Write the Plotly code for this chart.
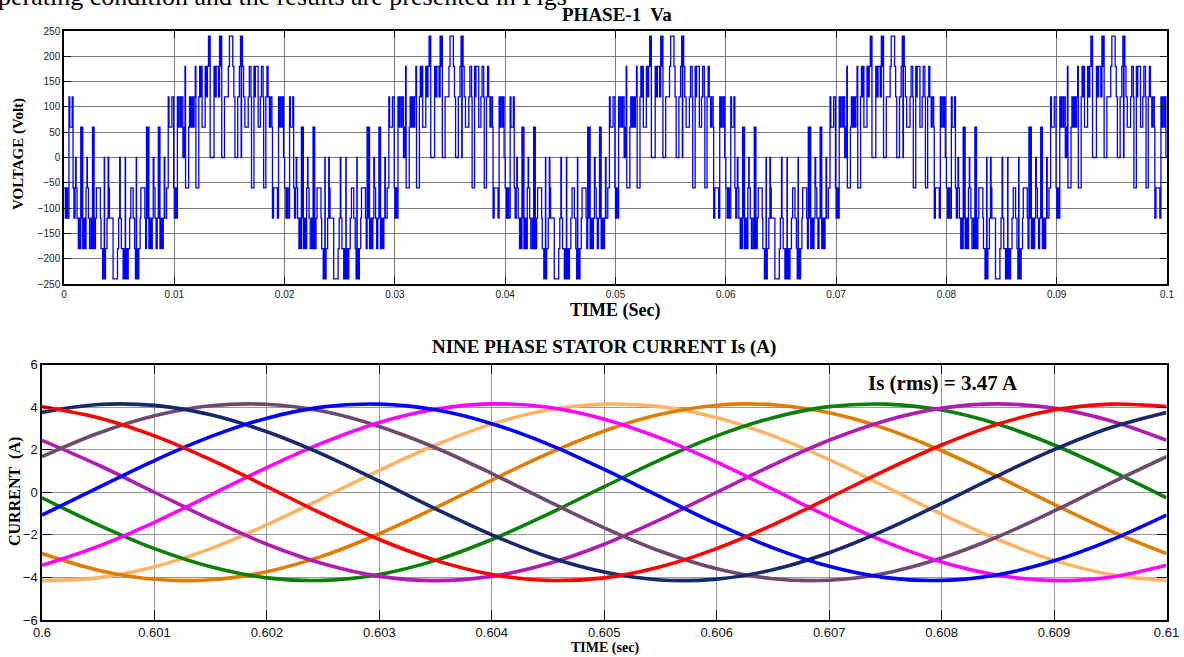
import plotly.graph_objects as go

# ---------------- DATA ----------------
# Phase-1 voltage: one period (20 ms) of the multilevel PWM waveform
# negative half-cycle switching instants (ms) and levels (V)
va_neg_half_ms = [
    0.00, 0.12, 0.22, 0.32, 0.45, 0.52, 0.74, 0.82, 0.90, 1.00,
    1.05, 1.10, 1.18, 1.30, 1.38, 1.45, 1.52, 1.56, 1.62, 1.70,
    1.80, 1.90, 2.00, 2.08, 2.12, 2.22, 2.32, 2.45, 2.52, 2.58,
    2.62, 2.68, 2.73, 2.85, 2.94, 3.30, 3.36, 3.50, 3.55, 3.60,
    3.65, 3.68, 3.76, 3.90, 4.00, 4.05, 4.12, 4.45, 4.85, 4.95,
    5.05, 5.10, 5.20, 5.36, 5.42, 5.50, 5.55, 5.58, 5.70, 5.76,
    5.82, 5.95, 6.06, 6.27, 6.40, 6.48, 6.55, 6.58, 6.68, 6.73,
    6.78, 6.90, 6.97, 7.33, 7.40, 7.48, 7.55, 7.62, 7.70, 7.80,
    7.90, 8.00, 8.09, 8.15, 8.25, 8.35, 8.45, 8.55, 8.62, 8.66,
    8.70, 8.80, 8.91, 9.00, 9.09, 9.14, 9.30, 9.45, 9.52, 9.78,
    9.94,
]
va_neg_half_v = [
    -60, -120, -60, -120, 120, 60, 120, -60, -120, -60,
    0, -60, -120, -180, -120, -180, 60, -120, 60, -180,
    -120, -180, -60, 0, -60, -120, -180, -120, -180, 60,
    -180, 60, -180, -120, -60, -120, -180, -240, -180, -240,
    0, -240, -180, -120, 0, -60, -120, -240, -180, -120,
    0, -120, -180, -240, -180, -240, 0, -240, -180, -240,
    -180, -120, -60, -120, -180, -240, 0, -240, -180, -240,
    -180, -120, -60, -120, -180, 60, -120, 60, -180, -120,
    -180, -120, 0, -60, -120, -180, -120, 60, -120, 60,
    -180, -120, -180, -120, 0, -120, -60, 120, 60, 120,
    -60,
]
# positive half-cycle switching instants (ms) and levels (V)
va_pos_half_ms = [
    10.00, 10.08, 10.20, 10.28, 10.35, 10.42, 10.55, 10.65, 10.78, 10.90,
    10.97, 11.02, 11.30, 11.38, 11.50, 11.58, 11.70, 11.80, 11.90, 11.96,
    12.22, 12.30, 12.40, 12.45, 12.52, 12.80, 12.90, 13.00, 13.10, 13.14,
    13.20, 13.25, 13.60, 13.70, 13.80, 14.00, 14.10, 14.15, 14.22, 14.30,
    14.55, 14.90, 15.00, 15.30, 15.40, 15.50, 15.75, 15.90, 16.00, 16.06,
    16.10, 16.18, 16.28, 16.40, 16.70, 16.80, 16.95, 17.00, 17.22, 17.30,
    17.35, 17.60, 17.80, 17.90, 18.05, 18.10, 18.30, 18.40, 18.50, 18.62,
    18.72, 18.85, 18.90, 19.00, 19.35, 19.45, 19.55, 19.62, 19.75, 19.82,
    19.90,
]
va_pos_half_v = [
    -120, -60, -120, 120, 60, 120, 60, 120, 0, 60,
    180, -60, 60, 120, 60, 120, 60, 120, 180, -60,
    120, 180, 120, 180, 60, 180, 120, 180, 240, 180,
    240, 0, 180, 120, 180, 120, 240, 180, 240, 0,
    120, 180, 240, 180, 120, 0, 120, 180, 240, 0,
    240, 180, 120, 60, 120, 180, 120, -60, 180, 120,
    180, 60, 120, 180, 120, -60, 120, 180, 120, 60,
    120, 60, -120, -60, -120, 120, 60, 120, 60, 120,
    0,
]
cycle_start_s = [0.00, 0.02, 0.04, 0.06, 0.08]

va_xticks = [0, 0.01, 0.02, 0.03, 0.04, 0.05, 0.06, 0.07, 0.08, 0.09, 0.1]
va_xlabels = ["0", "0.01", "0.02", "0.03", "0.04", "0.05", "0.06", "0.07", "0.08", "0.09", "0.1"]
va_yticks = [-250, -200, -150, -100, -50, 0, 50, 100, 150, 200, 250]

# Nine-phase stator currents (A), read every 0.5 ms
is_time = [0.6000, 0.6005, 0.6010, 0.6015, 0.6020, 0.6025, 0.6030, 0.6035, 0.6040, 0.6045,
           0.6050, 0.6055, 0.6060, 0.6065, 0.6070, 0.6075, 0.6080, 0.6085, 0.6090, 0.6095,
           0.6100]
is_navy = [3.75, 4.12, 4.08, 3.64, 2.84, 1.77, 0.52, -0.78, -2.00, -3.03,
           -3.75, -4.12, -4.08, -3.64, -2.84, -1.77, -0.52, 0.78, 2.00, 3.03, 3.75]
is_mauve = [1.67, 2.77, 3.59, 4.06, 4.13, 3.80, 3.09, 2.09, 0.88, -0.42,
            -1.67, -2.77, -3.59, -4.06, -4.13, -3.80, -3.09, -2.09, -0.88, 0.42, 1.67]
is_blue = [-1.07, 0.22, 1.49, 2.61, 3.48, 4.01, 4.14, 3.87, 3.22, 2.26,
           1.07, -0.22, -1.49, -2.61, -3.48, -4.01, -4.14, -3.87, -3.22, -2.26, -1.07]
is_magenta = [-3.43, -2.54, -1.41, -0.13, 1.16, 2.33, 3.28, 3.90, 4.15, 3.99,
              3.43, 2.54, 1.41, 0.13, -1.16, -2.33, -3.28, -3.90, -4.15, -3.99, -3.43]
is_lightorange = [-4.14, -4.02, -3.50, -2.65, -1.53, -0.26, 1.03, 2.22, 3.20, 3.86,
                  4.14, 4.02, 3.50, 2.65, 1.53, 0.26, -1.03, -2.22, -3.20, -3.86, -4.14]
is_darkorange = [-2.88, -3.66, -4.09, -4.11, -3.73, -2.99, -1.95, -0.73, 0.57, 1.81,
                 2.88, 3.66, 4.09, 4.11, 3.73, 2.99, 1.95, 0.73, -0.57, -1.81, -2.88]
is_green = [-0.26, -1.53, -2.65, -3.50, -4.02, -4.14, -3.86, -3.20, -2.22, -1.03,
            0.26, 1.53, 2.65, 3.50, 4.02, 4.14, 3.86, 3.20, 2.22, 1.03, -0.26]
is_violet = [2.44, 1.28, 0.00, -1.28, -2.44, -3.36, -3.95, -4.15, -3.95, -3.36,
             -2.44, -1.28, 0.00, 1.28, 2.44, 3.36, 3.95, 4.15, 3.95, 3.36, 2.44]
is_red = [4.02, 3.50, 2.65, 1.53, 0.26, -1.03, -2.22, -3.20, -3.86, -4.14,
          -4.02, -3.50, -2.65, -1.53, -0.26, 1.03, 2.22, 3.20, 3.86, 4.14, 4.02]

is_xticks = [0.600, 0.601, 0.602, 0.603, 0.604, 0.605, 0.606, 0.607, 0.608, 0.609, 0.610]
is_xlabels = ["0.6", "0.601", "0.602", "0.603", "0.604", "0.605", "0.606", "0.607", "0.608", "0.609", "0.61"]
is_yticks = [-6, -4, -2, 0, 2, 4, 6]

# ---------------- BUILD ----------------
cyc_ms = va_neg_half_ms + va_pos_half_ms
cyc_v = va_neg_half_v + va_pos_half_v
assert len(cyc_ms) == len(cyc_v)
va_t, va_v = [], []
for c0 in cycle_start_s:
    for tm, v in zip(cyc_ms, cyc_v):
        va_t.append(c0 + tm / 1000.0)
        va_v.append(v)
va_t.append(0.1)
va_v.append(va_v[-1])

W, H = 1184, 657
def px(x):
    return x / W
def py(y):
    return 1 - y / H

fig = go.Figure()
fig.add_trace(go.Scatter(x=va_t, y=va_v, mode="lines", line=dict(color="#0000ff", width=1.3, shape="hv"),
                         xaxis="x", yaxis="y", showlegend=False, hoverinfo="skip"))

phases = [
    (is_lightorange, "#ffb366"),
    (is_darkorange, "#e07d00"),
    (is_green, "#0a7f0a"),
    (is_violet, "#b01cb0"),
    (is_mauve, "#6f4a6f"),
    (is_magenta, "#ff00ff"),
    (is_navy, "#17286b"),
    (is_blue, "#0000ff"),
    (is_red, "#ff0000"),
]
for vals, col in phases:
    fig.add_trace(go.Scatter(x=is_time, y=vals, mode="lines",
                             line=dict(color=col, width=3.6, shape="spline", smoothing=1.0),
                             xaxis="x2", yaxis="y2", showlegend=False, hoverinfo="skip"))

axis_common = dict(showline=True, linecolor="black", linewidth=1.5, mirror="ticks",
                   ticks="inside", tickcolor="#111", zeroline=False, showgrid=True, automargin=False)

tick_font_top = dict(family="Liberation Sans, Arial, sans-serif", size=10, color="#222")
tick_font_bot = dict(family="Liberation Sans Narrow, Arial Narrow, Liberation Sans, sans-serif", size=13, color="#111")

fig.update_layout(
    width=W, height=H, margin=dict(l=0, r=0, t=0, b=0, autoexpand=False),
    paper_bgcolor="white", plot_bgcolor="white",
    xaxis=dict(domain=[px(64), px(1167)], range=[0, 0.1], tickvals=va_xticks, ticktext=va_xlabels,
               gridcolor="#7a7a7a", gridwidth=1, ticklen=7, tickfont=tick_font_top, anchor="y", **axis_common),
    yaxis=dict(domain=[py(284), py(31)], range=[-250, 250], tickvals=va_yticks,
               gridcolor="#7a7a7a", gridwidth=1, ticklen=7, tickfont=tick_font_top, anchor="x", **axis_common),
    xaxis2=dict(domain=[px(42), px(1166.5)], range=[0.6, 0.61], tickvals=is_xticks, ticktext=is_xlabels,
                gridcolor="#9a9a9a", gridwidth=1, ticklen=10, tickfont=tick_font_bot, anchor="y2", **axis_common),
    yaxis2=dict(domain=[py(620), py(364.5)], range=[-6, 6], tickvals=is_yticks,
                gridcolor="#9a9a9a", gridwidth=1, ticklen=10, tickfont=tick_font_bot, anchor="x2", **axis_common),
)

serif = "Liberation Serif, Times New Roman, serif"
ann = [
    dict(text="perating condition and the results are presented in Figs", x=px(-4), y=py(-3.5),
         xanchor="left", yanchor="middle", font=dict(family=serif, size=26, color="black")),
    dict(text="<b>PHASE-1\u00a0 Va</b>", x=px(617), y=py(15), xanchor="center", yanchor="middle",
         font=dict(family=serif, size=19, color="black")),
    dict(text="<b>TIME (Sec)</b>", x=px(615), y=py(311), xanchor="center", yanchor="middle",
         font=dict(family=serif, size=18, color="black")),
    dict(text="<b>VOLTAGE (Volt)</b>", x=px(18), y=py(154), xanchor="center", yanchor="middle", textangle=-90,
         font=dict(family=serif, size=15, color="black")),
    dict(text="<b>NINE PHASE STATOR CURRENT Is (A)</b>", x=px(604), y=py(347), xanchor="center", yanchor="middle",
         font=dict(family=serif, size=19, color="black")),
    dict(text="<b>Is (rms) = 3.47 A</b>", x=px(943), y=py(383), xanchor="center", yanchor="middle",
         font=dict(family=serif, size=21, color="black")),
    dict(text="<b>TIME (sec)</b>", x=px(605), y=py(648), xanchor="center", yanchor="middle",
         font=dict(family=serif, size=14, color="black")),
    dict(text="<b>CURRENT\u00a0 (A)</b>", x=px(15), y=py(492), xanchor="center", yanchor="middle", textangle=-90,
         font=dict(family=serif, size=16, color="black")),
]
for a in ann:
    a.update(xref="paper", yref="paper", showarrow=False)
fig.update_layout(annotations=ann)

fig.write_html("out.html", config={"displayModeBar": False},
               post_script="document.body.style.margin='0px';document.body.style.overflow='hidden';")
